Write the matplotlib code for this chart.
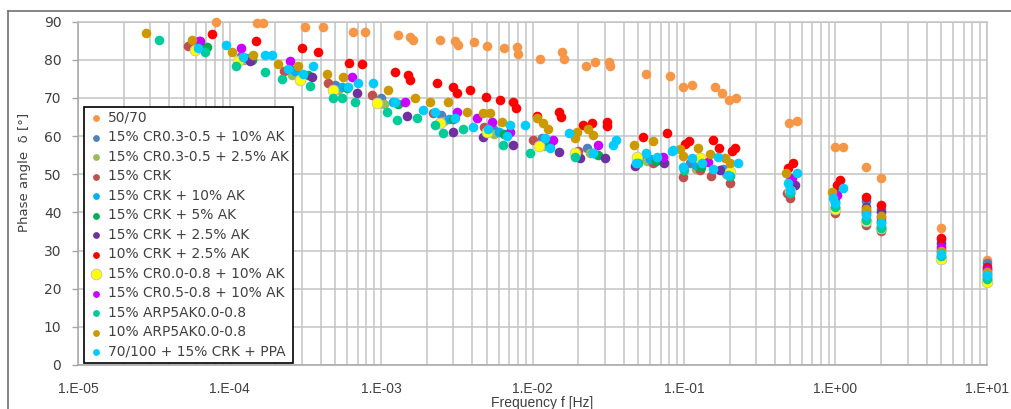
import numpy as np
import matplotlib
matplotlib.use("Agg")
import matplotlib.pyplot as plt
from matplotlib.lines import Line2D
from matplotlib.ticker import LogLocator, NullFormatter

# ---- data (frequency in Hz, phase angle in degrees) ----
f_5070 = [8.1e-5, 1.52e-4, 1.66e-4, 3.15e-4, 4.14e-4, 6.5e-4, 7.8e-4, 1.29e-3, 1.55e-3, 1.63e-3,
          2.45e-3, 3.1e-3, 3.2e-3, 4.1e-3, 5.0e-3, 6.5e-3, 7.9e-3, 8.0e-3, 1.12e-2, 1.57e-2,
          1.61e-2, 2.25e-2, 2.6e-2, 3.2e-2, 3.25e-2, 5.6e-2, 8.1e-2, 9.9e-2, 0.113, 0.16,
          0.178, 0.198, 0.22, 0.49, 0.56, 0.99, 1.12, 1.59, 2.0, 5.0, 10.0]
d_5070 = [89.9, 89.6, 89.6, 88.7, 88.6, 87.4, 87.4, 86.4, 86.0, 85.3,
          85.2, 85.0, 84.0, 84.6, 83.6, 83.1, 83.3, 81.6, 80.3, 82.0,
          80.3, 78.5, 79.4, 79.4, 78.4, 76.2, 75.7, 72.9, 73.3, 73.0,
          71.3, 69.4, 70.0, 63.4, 64.0, 57.1, 57.1, 51.9, 49.0, 36.0, 27.5]

f_blue = [6.0e-5, 1.2e-4, 2.5e-4, 5.0e-4, 1.0e-3, 2.5e-3, 5.5e-3, 1.15e-2, 2.3e-2, 5.5e-2,
          0.11, 0.18, 0.5, 1.0, 1.6, 2.0, 5.0, 10.0]
d_blue = [84.0, 81.0, 77.5, 73.5, 70.0, 65.5, 62.0, 59.5, 57.0, 54.5,
          53.0, 51.5, 48.5, 45.0, 43.0, 41.0, 33.0, 26.8]

f_olive = [6.2e-5, 1.25e-4, 2.6e-4, 5.2e-4, 1.05e-3, 2.6e-3, 5.6e-3, 1.2e-2, 2.4e-2, 5.7e-2,
           0.12, 0.19, 0.5, 1.0, 1.6, 2.0, 5.0, 10.0]
d_olive = [83.0, 80.0, 76.0, 72.0, 68.5, 64.0, 60.5, 57.5, 55.5, 53.5,
           51.5, 50.0, 45.5, 41.5, 38.3, 36.5, 28.5, 22.5]

f_crk = [5.3e-5, 1.2e-4, 2.3e-4, 4.47e-4, 8.7e-4, 2.2e-3, 4.8e-3, 1.0e-2, 2.0e-2, 6.2e-2,
         0.099, 0.128, 0.151, 0.2, 0.48, 0.5, 1.0, 1.6, 2.0, 5.0, 10.0]
d_crk = [83.6, 80.5, 77.0, 73.8, 70.7, 66.0, 62.5, 59.0, 56.0, 52.9,
         49.2, 51.0, 49.5, 47.6, 45.0, 43.7, 39.8, 36.6, 35.1, 28.3, 23.0]

f_crk10 = [6.3e-5, 1.3e-4, 2.7e-4, 5.5e-4, 1.2e-3, 2.8e-3, 6.0e-3, 1.25e-2, 2.5e-2, 6.0e-2,
           0.12, 0.18, 0.5, 1.0, 1.6, 2.0, 5.0, 10.0]
d_crk10 = [83.5, 80.5, 77.0, 73.0, 69.0, 64.5, 61.0, 58.0, 55.5, 54.0,
           52.5, 51.0, 47.0, 43.0, 40.0, 38.0, 30.5, 24.0]

f_crk5 = [7.1e-5, 1.4e-4, 3.3e-4, 6.0e-4, 1.3e-3, 3.0e-3, 6.5e-3, 1.3e-2, 2.7e-2, 6.5e-2,
          0.13, 0.2, 0.5, 1.0, 1.6, 2.0, 5.0, 10.0]
d_crk5 = [83.3, 80.0, 76.0, 72.5, 68.5, 64.5, 60.5, 58.0, 55.0, 53.5,
          52.0, 50.5, 46.5, 42.5, 39.5, 37.5, 29.5, 23.5]

f_crk25 = [6.4e-5, 1.36e-4, 3.5e-4, 6.95e-4, 1.49e-3, 2.99e-3, 4.7e-3, 7.4e-3, 1.5e-2, 2.06e-2,
           3.0e-2, 4.75e-2, 7.4e-2, 0.173, 0.54, 1.0, 1.6, 2.0, 5.0, 10.0]
d_crk25 = [85.0, 79.8, 75.4, 71.2, 65.4, 61.0, 59.7, 57.6, 55.8, 54.2,
           54.2, 52.1, 52.9, 51.0, 47.2, 44.0, 41.5, 40.0, 32.0, 25.2]

f_red = [7.7e-5, 1.5e-4, 3.0e-4, 3.84e-4, 6.15e-4, 7.5e-4, 1.24e-3, 1.51e-3, 1.55e-3, 2.34e-3,
         2.99e-3, 3.17e-3, 3.87e-3, 4.93e-3, 6.1e-3, 7.43e-3, 7.78e-3, 1.07e-2, 1.5e-2, 1.54e-2,
         2.15e-2, 2.47e-2, 3.1e-2, 3.1e-2, 5.36e-2, 7.72e-2, 0.102, 0.108, 0.155, 0.17,
         0.207, 0.217, 0.486, 0.524, 1.02, 1.07, 1.6, 2.0, 5.0, 10.0]
d_red = [86.9, 85.0, 83.0, 82.0, 79.3, 79.0, 76.7, 75.9, 74.6, 73.8,
         72.8, 71.2, 72.0, 70.2, 69.4, 68.9, 67.3, 65.4, 66.2, 64.9,
         62.8, 63.4, 63.6, 62.6, 59.9, 60.7, 57.9, 58.6, 58.9, 57.0,
         56.0, 56.8, 51.6, 52.9, 47.1, 48.4, 44.0, 41.9, 33.2, 25.7]

f_yel = [5.9e-5, 1.14e-4, 2.92e-4, 4.82e-4, 9.4e-4, 2.45e-3, 5.0e-3, 1.1e-2, 1.9e-2, 4.9e-2,
         0.128, 0.2, 0.5, 1.0, 1.6, 2.0, 5.0, 10.0]
d_yel = [82.5, 79.8, 74.6, 72.0, 68.6, 63.5, 61.0, 57.5, 55.5, 54.5,
         54.2, 50.5, 45.5, 41.0, 37.8, 36.0, 27.8, 21.8]

f_mag = [6.3e-5, 1.2e-4, 2.5e-4, 6.4e-4, 1.44e-3, 3.17e-3, 4.3e-3, 5.4e-3, 7.1e-3, 1.37e-2,
         2.7e-2, 7.3e-2, 0.144, 0.52, 1.03, 1.6, 2.0, 5.0, 10.0]
d_mag = [85.0, 83.0, 79.8, 75.5, 68.9, 66.2, 64.7, 63.6, 61.0, 58.9,
         57.6, 54.5, 53.2, 49.0, 44.5, 40.6, 38.7, 31.0, 25.0]

f_arp15 = [3.43e-5, 6.9e-5, 1.1e-4, 1.71e-4, 2.22e-4, 3.4e-4, 4.82e-4, 5.53e-4, 6.73e-4, 1.1e-3,
           1.28e-3, 1.73e-3, 2.27e-3, 2.57e-3, 3.48e-3, 6.39e-3, 9.6e-3, 1.91e-2, 5.0e-2, 0.1,
           0.2, 0.5, 1.0, 1.6, 2.0, 5.0, 10.0]
d_arp15 = [85.3, 82.0, 78.5, 76.7, 75.0, 73.1, 69.9, 69.9, 68.9, 66.2,
           64.1, 64.7, 62.8, 60.7, 62.0, 57.6, 55.5, 54.5, 53.0, 51.0,
           49.5, 45.0, 41.5, 38.0, 36.0, 28.5, 22.5]

f_arp10 = [2.81e-5, 5.65e-5, 1.04e-4, 1.43e-4, 2.09e-4, 2.83e-4, 4.4e-4, 5.61e-4, 1.11e-3, 1.68e-3,
           2.1e-3, 2.77e-3, 3.7e-3, 4.71e-3, 5.24e-3, 6.29e-3, 1.07e-2, 1.17e-2, 1.27e-2, 1.91e-2,
           1.97e-2, 2.32e-2, 2.51e-2, 4.68e-2, 6.24e-2, 9.41e-2, 9.85e-2, 0.124, 0.149, 0.186,
           0.201, 0.471, 0.948, 1.6, 2.0, 5.0, 10.0]
d_arp10 = [87.1, 85.3, 82.0, 81.4, 79.0, 78.5, 76.4, 75.4, 72.0, 69.9,
           68.9, 68.9, 66.2, 66.0, 66.0, 63.6, 64.7, 63.4, 62.0, 59.4,
           61.0, 61.8, 60.2, 57.6, 58.6, 56.5, 54.7, 57.0, 55.2, 54.2,
           52.9, 50.3, 45.3, 41.0, 39.0, 30.0, 24.5]

f_ppa = [6.2e-5, 9.48e-5, 1.23e-4, 1.71e-4, 1.91e-4, 2.43e-4, 3.06e-4, 3.56e-4, 6.05e-4, 7.05e-4,
         8.86e-4, 1.24e-3, 1.89e-3, 2.27e-3, 3.08e-3, 4.05e-3, 5.08e-3, 6.79e-3, 7.1e-3, 8.92e-3,
         1.21e-2, 1.31e-2, 1.74e-2, 2.51e-2, 3.4e-2, 3.56e-2, 4.82e-2, 5.61e-2, 6.63e-2, 8.34e-2,
         8.46e-2, 9.85e-2, 0.113, 0.131, 0.155, 0.168, 0.195, 0.227, 0.486, 0.501,
         0.557, 0.962, 0.993, 1.12, 1.6, 2.0, 5.0, 10.0]
d_ppa = [83.0, 84.0, 80.7, 81.4, 81.4, 77.7, 76.4, 78.5, 72.8, 74.0,
         73.8, 68.9, 66.8, 66.2, 64.7, 62.5, 62.0, 60.0, 62.8, 62.8,
         59.4, 56.8, 60.7, 55.5, 57.6, 58.9, 52.9, 55.5, 54.5, 56.0,
         56.3, 51.8, 54.2, 52.9, 51.3, 54.5, 49.7, 52.9, 47.6, 45.8,
         50.3, 43.7, 42.4, 46.3, 39.3, 37.2, 29.2, 23.5]

labels = ["50/70", "15% CR0.3-0.5 + 10% AK", "15% CR0.3-0.5 + 2.5% AK", "15% CRK",
          "15% CRK + 10% AK", "15% CRK + 5% AK", "15% CRK + 2.5% AK", "10% CRK + 2.5% AK",
          "15% CR0.0-0.8 + 10% AK", "15% CR0.5-0.8 + 10% AK", "15% ARP5AK0.0-0.8",
          "10% ARP5AK0.0-0.8", "70/100 + 15% CRK + PPA"]
colors = ["#F79646", "#4F81BD", "#9BBB59", "#C0504D", "#00B0F0", "#00B050", "#7030A0",
          "#FF0000", "#FFFF00", "#CC00FF", "#00CC99", "#CC9900", "#00CCFF"]
freqs = [f_5070, f_blue, f_olive, f_crk, f_crk10, f_crk5, f_crk25, f_red,
         f_yel, f_mag, f_arp15, f_arp10, f_ppa]
angles = [d_5070, d_blue, d_olive, d_crk, d_crk10, d_crk5, d_crk25, d_red,
          d_yel, d_mag, d_arp15, d_arp10, d_ppa]

xticks = [1e-5, 1e-4, 1e-3, 1e-2, 1e-1, 1e0, 1e1]
xticklabels = ["1.E-05", "1.E-04", "1.E-03", "1.E-02", "1.E-01", "1.E+00", "1.E+01"]
yticks = [0, 10, 20, 30, 40, 50, 60, 70, 80, 90]

plt.rcParams['font.family'] = ['DejaVu Sans']

fig = plt.figure(figsize=(10.12, 4.09), dpi=100)
ax = fig.add_axes([78 / 1012, 44 / 409, 909 / 1012, 343.3 / 409])

handles = []
for lab, col, f, d in zip(labels, colors, freqs, angles):
    if col == "#FFFF00":
        h = ax.scatter(f, d, s=60, color=col, edgecolors="#BFBFBF", linewidths=0.6,
                       label=lab, clip_on=False, zorder=3)
    else:
        h = ax.scatter(f, d, s=48, color=col, linewidths=0, label=lab,
                       clip_on=False, zorder=3)
    handles.append(h)

ax.set_xscale("log")
ax.set_xlim(1e-5, 10)
ax.set_ylim(0, 90)
ax.set_xticks(xticks)
ax.set_xticklabels(xticklabels, family=['Liberation Sans', 'DejaVu Sans'], fontsize=10)
ax.xaxis.set_minor_locator(LogLocator(base=10, subs=np.arange(2, 10), numticks=20))
ax.xaxis.set_minor_formatter(NullFormatter())
ax.set_yticks(yticks)
ax.tick_params(axis="x", which="both", length=0, pad=12, colors="#404040")
ax.tick_params(axis="y", length=4, width=1, color="#A6A6A6", pad=8, labelsize=10,
               labelcolor="#404040")

gridc = "#C3C3C3"
ax.grid(which="both", axis="x", color=gridc, lw=1.1)
ax.grid(which="major", axis="y", color=gridc, lw=1.1)
ax.set_axisbelow(True)
for sp in ax.spines.values():
    sp.set_color(gridc)
    sp.set_linewidth(1.1)
ax.spines["left"].set_color("#A6A6A6")
ax.spines["bottom"].set_color("#A6A6A6")

ax.set_ylabel("Phase angle  δ [°]", fontsize=9.5, color="#404040")
ax.yaxis.set_label_coords(-0.052, 0.56)
fig.text(542 / 1012, 1 - 396 / 409, "Frequency f [Hz]", ha="center", va="top",
         fontsize=10, color="#404040", family=['Liberation Sans', 'DejaVu Sans'])

leg = ax.legend(handles=handles, loc="lower left",
                bbox_to_anchor=(84 / 1012, 46 / 409), bbox_transform=fig.transFigure,
                fontsize=9.9, frameon=True, fancybox=False, borderpad=0.3,
                labelspacing=0.4, handletextpad=0.25, handlelength=1.2,
                borderaxespad=0, scatterpoints=1)
leg.get_frame().set_edgecolor("black")
leg.get_frame().set_linewidth(1.2)
leg.get_frame().set_alpha(1)
for h, col in zip(leg.legend_handles, colors):
    h.set_sizes([60 if col == "#FFFF00" else 24])
for t in leg.get_texts():
    t.set_color("#404040")

# chart area border (top and left visible)
fig.add_artist(Line2D([8 / 1012, 1], [1 - 10.7 / 409] * 2, transform=fig.transFigure,
                      color="#707070", lw=1.2))
fig.add_artist(Line2D([8 / 1012] * 2, [0, 1 - 10.7 / 409], transform=fig.transFigure,
                      color="#707070", lw=1.2))

fig.savefig("out.png", dpi=100)
